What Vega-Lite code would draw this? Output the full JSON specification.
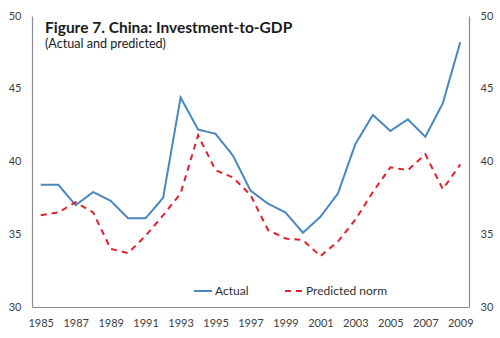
{
  "$schema": "https://vega.github.io/schema/vega-lite/v6.json",
  "autosize": "none",
  "width": 437,
  "height": 291,
  "padding": {"left": 32, "top": 16, "right": 31, "bottom": 31},
  "background": "white",
  "config": {
    "view": {"stroke": null},
    "font": "Lato",
    "axis": {"grid": false, "ticks": false, "domainColor": "#8c8c8c", "domainWidth": 1.2, "labelFont": "Lato", "labelFontSize": 11, "labelColor": "#404040", "titleFontSize": 0}
  },
  "title": {
    "text": "Figure 7. China: Investment-to-GDP",
    "subtitle": "(Actual and predicted)",
    "anchor": "start",
    "frame": "group",
    "orient": "top",
    "offset": -41,
    "dx": 13,
    "font": "Lato",
    "fontSize": 15.5,
    "fontWeight": "bold",
    "color": "#1a1a1a",
    "subtitleFont": "Lato",
    "subtitleFontSize": 12.6,
    "subtitleColor": "#1a1a1a",
    "subtitlePadding": 2
  },
  "data": {
    "values": [
      {"year": 1985, "series": "Actual", "value": 38.4},
      {"year": 1986, "series": "Actual", "value": 38.4},
      {"year": 1987, "series": "Actual", "value": 37.0},
      {"year": 1988, "series": "Actual", "value": 37.9},
      {"year": 1989, "series": "Actual", "value": 37.3},
      {"year": 1990, "series": "Actual", "value": 36.1},
      {"year": 1991, "series": "Actual", "value": 36.1},
      {"year": 1992, "series": "Actual", "value": 37.5},
      {"year": 1993, "series": "Actual", "value": 44.4},
      {"year": 1994, "series": "Actual", "value": 42.2},
      {"year": 1995, "series": "Actual", "value": 41.9},
      {"year": 1996, "series": "Actual", "value": 40.4},
      {"year": 1997, "series": "Actual", "value": 38.0},
      {"year": 1998, "series": "Actual", "value": 37.1},
      {"year": 1999, "series": "Actual", "value": 36.5},
      {"year": 2000, "series": "Actual", "value": 35.1},
      {"year": 2001, "series": "Actual", "value": 36.2},
      {"year": 2002, "series": "Actual", "value": 37.8},
      {"year": 2003, "series": "Actual", "value": 41.2},
      {"year": 2004, "series": "Actual", "value": 43.2},
      {"year": 2005, "series": "Actual", "value": 42.1},
      {"year": 2006, "series": "Actual", "value": 42.9},
      {"year": 2007, "series": "Actual", "value": 41.7},
      {"year": 2008, "series": "Actual", "value": 44.0},
      {"year": 2009, "series": "Actual", "value": 48.2},
      {"year": 1985, "series": "Predicted norm", "value": 36.3},
      {"year": 1986, "series": "Predicted norm", "value": 36.5},
      {"year": 1987, "series": "Predicted norm", "value": 37.2},
      {"year": 1988, "series": "Predicted norm", "value": 36.5},
      {"year": 1989, "series": "Predicted norm", "value": 34.0},
      {"year": 1990, "series": "Predicted norm", "value": 33.7},
      {"year": 1991, "series": "Predicted norm", "value": 34.9},
      {"year": 1992, "series": "Predicted norm", "value": 36.3},
      {"year": 1993, "series": "Predicted norm", "value": 37.8},
      {"year": 1994, "series": "Predicted norm", "value": 41.8},
      {"year": 1995, "series": "Predicted norm", "value": 39.4},
      {"year": 1996, "series": "Predicted norm", "value": 38.9},
      {"year": 1997, "series": "Predicted norm", "value": 37.7},
      {"year": 1998, "series": "Predicted norm", "value": 35.3},
      {"year": 1999, "series": "Predicted norm", "value": 34.7},
      {"year": 2000, "series": "Predicted norm", "value": 34.6},
      {"year": 2001, "series": "Predicted norm", "value": 33.5},
      {"year": 2002, "series": "Predicted norm", "value": 34.5},
      {"year": 2003, "series": "Predicted norm", "value": 36.0},
      {"year": 2004, "series": "Predicted norm", "value": 37.9},
      {"year": 2005, "series": "Predicted norm", "value": 39.6},
      {"year": 2006, "series": "Predicted norm", "value": 39.4},
      {"year": 2007, "series": "Predicted norm", "value": 40.5},
      {"year": 2008, "series": "Predicted norm", "value": 38.1},
      {"year": 2009, "series": "Predicted norm", "value": 39.8}
    ]
  },
  "layer": [
    {
      "mark": {"type": "line", "strokeWidth": 2},
      "encoding": {
        "x": {
          "field": "year", "type": "quantitative",
          "scale": {"domain": [1984.5, 2009.5], "nice": false, "zero": false},
          "axis": {"values": [1985, 1987, 1989, 1991, 1993, 1995, 1997, 1999, 2001, 2003, 2005, 2007, 2009], "format": "d", "labelPadding": 10, "title": null}
        },
        "y": {
          "field": "value", "type": "quantitative",
          "scale": {"domain": [30, 50], "nice": false, "zero": false},
          "axis": {"values": [30, 35, 40, 45, 50], "labelPadding": 11, "title": null}
        },
        "color": {
          "field": "series", "type": "nominal",
          "scale": {"domain": ["Actual", "Predicted norm"], "range": ["#4a87bd", "#e0212f"]},
          "legend": {
            "orient": "none", "legendX": 161, "legendY": 265, "direction": "horizontal",
            "title": null, "symbolType": "stroke", "symbolSize": 324, "symbolStrokeWidth": 2,
            "labelFont": "Lato", "labelFontSize": 12, "labelColor": "#303030", "columnPadding": 32, "labelOffset": 2
          }
        },
        "strokeDash": {
          "field": "series", "type": "nominal",
          "scale": {"domain": ["Actual", "Predicted norm"], "range": [[1, 0], [6, 5]]},
          "legend": {
            "orient": "none", "legendX": 161, "legendY": 265, "direction": "horizontal",
            "title": null, "symbolType": "stroke", "symbolSize": 324, "symbolStrokeWidth": 2,
            "labelFont": "Lato", "labelFontSize": 12, "labelColor": "#303030", "columnPadding": 32, "labelOffset": 2
          }
        }
      }
    },
    {
      "mark": {"type": "rule", "strokeWidth": 0},
      "encoding": {
        "y": {"field": "value", "type": "quantitative", "aggregate": "min",
          "axis": {"orient": "right", "values": [30, 35, 40, 45, 50], "labelPadding": 11, "title": null}}
      }
    }
  ],
  "resolve": {"scale": {"y": "shared"}, "axis": {"y": "independent"}}
}
